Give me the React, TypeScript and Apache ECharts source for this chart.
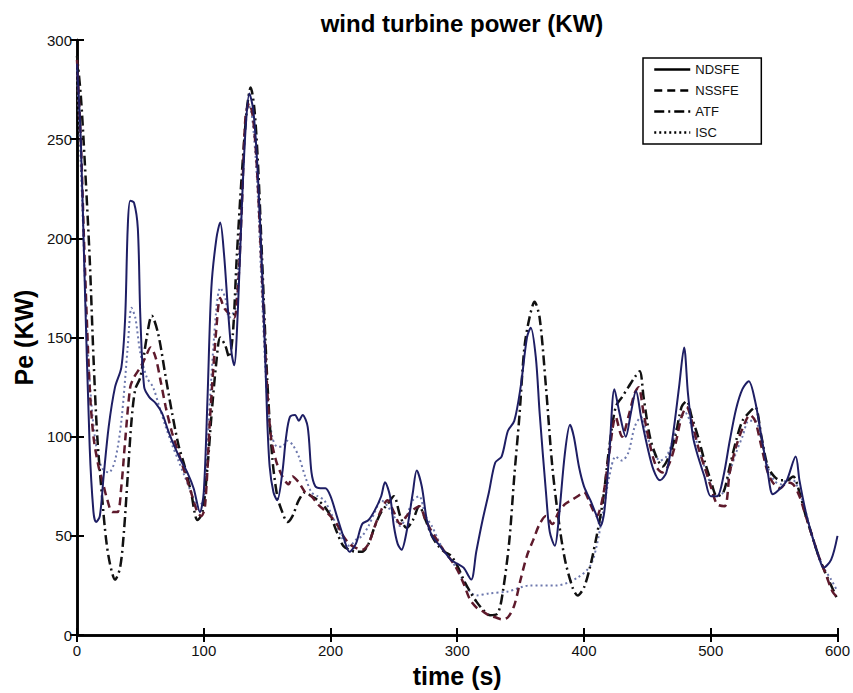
import React, { useEffect, useRef } from "react";
import * as echarts from "echarts";

const xTicks = [0, 100, 200, 300, 400, 500, 600];
const yTicks = [0, 50, 100, 150, 200, 250, 300];

const ndsfe: number[][] = [
  [0,288],[3,250],[6,180],[10,95],[13,62],[15,57],[18,60],[21,80],[25,105],[30,125],[35,135],[38,160],[40,205],[42,219],[45,218],[48,205],[50,160],[53,125],[57,120],[62,117],[67,112],[72,103],[77,95],[82,88],[87,82],[92,74],[97,62],[100,72],[103,120],[106,175],[110,200],[113,208],[116,192],[119,165],[122,142],[124,136],[127,165],[130,215],[133,255],[136,273],[139,265],[142,240],[145,200],[148,150],[150,110],[152,85],[155,72],[158,68],[162,82],[165,100],[168,110],[172,111],[175,108],[178,111],[182,105],[185,82],[188,75],[192,74],[196,74],[200,70],[205,60],[210,50],[215,42],[220,46],[225,56],[230,58],[235,63],[240,70],[243,77],[247,70],[250,55],[253,46],[256,43],[260,52],[265,72],[268,83],[272,75],[276,58],[280,50],[285,46],[290,42],[295,38],[300,36],[305,34],[311,28],[315,42],[320,58],[325,72],[330,87],[335,90],[340,103],[345,108],[350,125],[355,150],[358,155],[362,140],[365,112],[370,72],[373,52],[377,45],[380,58],[385,92],[389,106],[392,100],[396,85],[400,75],[405,68],[410,60],[413,55],[416,62],[420,92],[424,124],[428,112],[433,100],[437,112],[441,123],[445,110],[450,95],[455,83],[460,78],[465,82],[470,100],[475,125],[479,145],[482,122],[486,100],[490,90],[495,80],[500,70],[505,70],[510,80],[515,98],[520,114],[525,124],[530,128],[535,118],[540,100],[545,82],[549,71],[555,74],[560,78],[567,90],[570,78],[575,62],[580,50],[585,40],[589,34],[595,38],[600,50]
];

const nssfe: number[][] = [
  [0,290],[3,250],[6,190],[10,125],[13,100],[17,85],[20,78],[24,68],[28,62],[32,62],[35,75],[38,98],[42,125],[45,130],[50,135],[54,140],[58,145],[62,140],[66,128],[70,115],[75,102],[80,92],[85,82],[90,72],[95,62],[98,60],[101,65],[105,110],[110,155],[113,170],[116,165],[120,162],[124,160],[127,175],[130,215],[133,262],[136,268],[139,260],[142,235],[146,180],[150,125],[153,100],[157,88],[162,80],[167,76],[170,80],[175,77],[180,72],[185,70],[190,66],[195,63],[200,60],[205,56],[210,50],[215,46],[220,44],[225,43],[230,46],[235,55],[240,63],[245,68],[250,62],[255,56],[260,60],[265,63],[270,65],[275,58],[280,52],[285,47],[290,42],[295,38],[300,33],[305,26],[310,18],[315,14],[320,12],[325,10],[330,9],[335,8],[340,9],[345,15],[350,28],[355,40],[360,48],[365,56],[370,60],[375,56],[380,62],[385,66],[390,68],[395,70],[400,72],[405,66],[410,60],[415,70],[420,92],[425,110],[430,100],[435,110],[440,122],[443,125],[447,112],[452,96],[457,85],[462,82],[467,86],[472,96],[477,110],[481,115],[485,108],[490,95],[495,85],[500,75],[505,66],[511,65],[515,82],[520,95],[525,104],[531,111],[535,108],[540,95],[545,82],[550,76],[555,74],[560,77],[565,76],[570,70],[575,60],[580,50],[585,40],[590,32],[596,22],[600,19]
];

const atf: number[][] = [
  [0,292],[3,272],[6,240],[10,190],[13,140],[16,100],[20,68],[23,48],[26,36],[30,28],[34,34],[37,52],[40,80],[43,108],[46,124],[50,130],[55,150],[59,161],[64,152],[70,130],[75,112],[80,96],[85,85],[90,72],[95,58],[99,62],[103,85],[106,110],[110,138],[113,150],[117,146],[120,140],[123,152],[126,190],[130,232],[134,265],[137,276],[140,265],[143,235],[146,190],[150,130],[154,90],[158,70],[162,62],[166,57],[170,60],[175,68],[180,72],[185,70],[190,68],[195,65],[200,60],[205,52],[210,45],[215,43],[220,42],[225,42],[230,46],[235,55],[240,62],[245,66],[250,70],[255,60],[260,54],[265,58],[270,65],[275,58],[280,50],[285,45],[290,42],[295,40],[300,35],[305,28],[310,22],[315,17],[320,13],[326,10],[332,11],[336,22],[341,47],[345,80],[349,110],[353,145],[357,160],[361,168],[365,160],[370,125],[375,85],[380,58],[385,38],[391,24],[395,20],[400,24],[405,35],[410,50],[415,68],[420,95],[425,115],[430,120],[435,125],[440,130],[444,133],[447,120],[452,100],[457,90],[462,85],[467,90],[472,100],[477,115],[481,118],[485,110],[490,100],[495,88],[500,78],[505,70],[510,72],[515,85],[520,98],[525,108],[530,112],[535,115],[540,100],[545,85],[550,80],[555,78],[560,78],[565,80],[570,72],[575,60],[580,50],[585,40],[590,32],[595,25],[600,18]
];

const isc: number[][] = [
  [0,285],[4,220],[8,150],[12,112],[16,92],[20,84],[25,82],[30,88],[35,108],[40,145],[43,165],[46,160],[50,142],[55,130],[60,125],[65,115],[70,105],[75,96],[80,88],[85,80],[90,72],[95,65],[100,68],[105,120],[110,165],[113,175],[117,170],[120,160],[125,165],[130,222],[135,268],[138,262],[142,230],[146,170],[150,120],[154,100],[158,95],[162,95],[166,98],[170,96],[175,90],[180,80],[185,72],[190,70],[195,68],[200,62],[205,55],[210,48],[215,45],[220,48],[225,50],[230,55],[235,62],[240,68],[245,65],[250,60],[255,55],[260,60],[265,68],[270,70],[275,60],[280,55],[285,48],[290,42],[295,38],[300,33],[305,27],[310,22],[315,20],[325,21],[340,22],[357,25],[378,25],[395,29],[405,35],[410,45],[415,62],[420,80],[425,90],[430,88],[435,92],[440,105],[445,110],[450,100],[455,92],[460,88],[465,90],[470,98],[475,108],[480,112],[485,105],[490,95],[495,85],[500,76],[505,70],[510,72],[515,82],[520,92],[525,100],[530,108],[535,108],[540,98],[545,85],[550,78],[555,76],[560,78],[565,78],[570,72],[575,62],[580,50],[585,40],[590,33],[595,28],[600,22]
];

const seriesNames = ["NDSFE", "NSSFE", "ATF", "ISC"];
const legendDash: (string | number[])[] = ["solid", [8, 5], [10, 4, 2, 4], [2, 3]];

const FONT = "'Liberation Sans', Arial, Helvetica, sans-serif";

export default function App() {
  const ref = useRef<HTMLDivElement>(null);
  useEffect(() => {
    if (!ref.current) return;
    const chart = echarts.init(ref.current, undefined, { renderer: "svg" });
    const axisLine = { show: true, lineStyle: { color: "#000", width: 2.5 } };
    const tickIn = { show: true, inside: true, length: 7, lineStyle: { color: "#000", width: 2 } };
    const xBase = { type: "value" as const, min: xTicks[0], max: xTicks[xTicks.length - 1], interval: 100, splitLine: { show: false } };
    const yBase = { type: "value" as const, min: yTicks[0], max: yTicks[yTicks.length - 1], interval: 50, splitLine: { show: false } };
    chart.setOption({
      animation: false,
      backgroundColor: "#fff",
      title: {
        text: "wind turbine power (KW)",
        left: 457,
        textAlign: "center",
        top: 6,
        textStyle: { fontFamily: FONT, fontWeight: "bold", fontSize: 24, color: "#000" },
      },
      grid: { left: 77, right: 15, top: 40, bottom: 49 },
      legend: {
        data: seriesNames.map((n, i) => ({
          name: n,
          itemStyle: { opacity: 0 },
          lineStyle: { color: "#000", width: 2.5, type: legendDash[i] },
        })),
        left: 643,
        top: 58,
        orient: "vertical",
        itemWidth: 36,
        itemHeight: 12,
        itemGap: 8,
        padding: [5, 22, 5, 10],
        borderColor: "#000",
        borderWidth: 1.5,
        backgroundColor: "#fff",
        itemStyle: { opacity: 0 },
        textStyle: { fontFamily: FONT, fontSize: 13, color: "#111" },
      },
      xAxis: [
        {
          ...xBase,
          position: "bottom",
          name: "time (s)",
          nameLocation: "middle",
          nameGap: 26,
          nameTextStyle: { fontFamily: FONT, fontWeight: "bold", fontSize: 25, color: "#000" },
          axisLine,
          axisTick: tickIn,
          axisLabel: { fontFamily: FONT, fontSize: 15, color: "#111", margin: 8 },
        },
        { ...xBase, position: "top", axisLine, axisTick: tickIn, axisLabel: { show: false } },
      ],
      yAxis: [
        {
          ...yBase,
          position: "left",
          name: "Pe (KW)",
          nameLocation: "middle",
          nameGap: 32,
          nameTextStyle: { fontFamily: FONT, fontWeight: "bold", fontSize: 25, color: "#000" },
          axisLine,
          axisTick: tickIn,
          axisLabel: { fontFamily: FONT, fontSize: 15, color: "#111", margin: 5 },
        },
        { ...yBase, position: "right", axisLine, axisTick: tickIn, axisLabel: { show: false } },
      ],
      series: [
        {
          name: seriesNames[0], type: "line", data: ndsfe, symbol: "none", smooth: 0.3,
          lineStyle: { color: "#1e1e64", width: 2, type: "solid" }, itemStyle: { color: "#1e1e64" }, z: 4,
        },
        {
          name: seriesNames[1], type: "line", data: nssfe, symbol: "none", smooth: 0.3,
          lineStyle: { color: "#5e1a2c", width: 2.5, type: [8, 5] }, itemStyle: { color: "#5e1a2c" }, z: 3,
        },
        {
          name: seriesNames[2], type: "line", data: atf, symbol: "none", smooth: 0.3,
          lineStyle: { color: "#111", width: 2.5, type: [10, 4, 2, 4] }, itemStyle: { color: "#111" }, z: 2,
        },
        {
          name: seriesNames[3], type: "line", data: isc, symbol: "none", smooth: 0.3,
          lineStyle: { color: "#6d78ad", width: 2, type: [2, 3] }, itemStyle: { color: "#6d78ad" }, z: 1,
        },
      ],
    });
    return () => chart.dispose();
  }, []);
  return (
    <div
      ref={ref}
      style={{ position: "absolute", left: 0, top: 0, width: 853, height: 693, background: "#fff" }}
    />
  );
}
